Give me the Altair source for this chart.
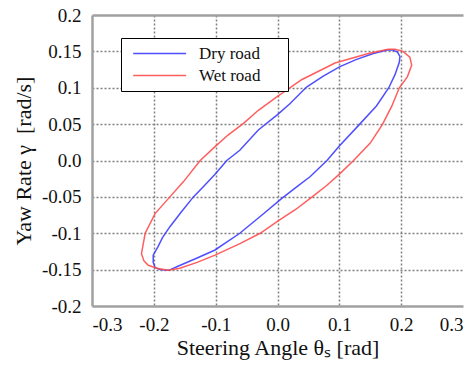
import altair as alt
import pandas as pd

# Dry road loop (blue), traced from the peak along the upper branch and back
dry_x = [0.177, 0.155, 0.128, 0.101, 0.074, 0.047, 0.020, 0.000, -0.031, -0.061,
         -0.082, -0.101, -0.120, -0.136, -0.155, -0.174, -0.186, -0.193, -0.201, -0.201,
         -0.198, -0.190, -0.176, -0.160, -0.130, -0.101, -0.061, -0.028, 0.007, 0.030,
         0.053, 0.080, 0.100, 0.133, 0.160, 0.180, 0.190, 0.197, 0.198, 0.194,
         0.186, 0.177]
dry_y = [0.152, 0.147, 0.139, 0.129, 0.116, 0.101, 0.078, 0.063, 0.042, 0.014,
         0.000, -0.019, -0.036, -0.050, -0.070, -0.091, -0.106, -0.118, -0.130, -0.140,
         -0.147, -0.150, -0.151, -0.145, -0.134, -0.123, -0.100, -0.077, -0.052, -0.037,
         -0.022, 0.000, 0.020, 0.050, 0.075, 0.100, 0.118, 0.135, 0.143, 0.149,
         0.152, 0.152]

# Wet road loop (red)
wet_x = [0.179, 0.147, 0.093, 0.039, 0.000, -0.031, -0.055, -0.080, -0.101, -0.125,
         -0.152, -0.174, -0.198, -0.214, -0.220, -0.216, -0.209, -0.195, -0.177, -0.158,
         -0.130, -0.101, -0.060, -0.028, 0.001, 0.030, 0.056, 0.080, 0.101, 0.123,
         0.150, 0.170, 0.185, 0.197, 0.210, 0.217, 0.214, 0.203, 0.190, 0.179]
wet_y = [0.153, 0.147, 0.134, 0.111, 0.088, 0.069, 0.051, 0.035, 0.019, 0.000,
         -0.029, -0.050, -0.073, -0.100, -0.128, -0.138, -0.144, -0.148, -0.151, -0.148,
         -0.140, -0.130, -0.114, -0.100, -0.083, -0.067, -0.050, -0.034, -0.018, 0.000,
         0.024, 0.050, 0.075, 0.100, 0.115, 0.131, 0.142, 0.150, 0.153, 0.153]

series_names = ["Dry road", "Wet road"]
series_colors = ["#3c3cff", "#ff4d4d"]

x_ticks = [-0.3, -0.2, -0.1, 0.0, 0.1, 0.2, 0.3]
y_ticks = [-0.2, -0.15, -0.1, -0.05, 0.0, 0.05, 0.1, 0.15, 0.2]

rows = []
for name, xs, ys in [(series_names[0], dry_x, dry_y), (series_names[1], wet_x, wet_y)]:
    for i, (a, b) in enumerate(zip(xs, ys)):
        rows.append({"series": name, "x": a, "y": b, "order": i})
df = pd.DataFrame(rows)

FONT = "Liberation Serif"
BORDER = "#a0a0a0"

x_scale = alt.Scale(domain=[x_ticks[0], x_ticks[-1]], nice=False)
y_scale = alt.Scale(domain=[y_ticks[0], y_ticks[-1]], nice=False)

lines = alt.Chart(df).mark_line(strokeWidth=1.5, opacity=0.9).encode(
    x=alt.X("x:Q", scale=x_scale,
            axis=alt.Axis(values=x_ticks, title="Steering Angle θₛ [rad]",
                          labelExpr="(datum.value < 0 ? '-' : '') + format(abs(datum.value), '.1f')",
                          ticks=False, tickSize=0, labelPadding=9, labelOverlap=False,
                          labelFont=FONT, labelFontSize=19, labelColor="#111",
                          titleFont=FONT, titleFontSize=22, titleFontWeight="normal",
                          titleColor="#111", titleBaseline="alphabetic", titleY=48,
                          domainColor=BORDER, domainWidth=2.5,
                          grid=True, gridColor="#808080", gridDash=[2, 2], gridWidth=1.5,
                          gridOpacity={"condition": {"test": "abs(datum.value) > 0.29", "value": 0}, "value": 1})),
    y=alt.Y("y:Q", scale=y_scale,
            axis=alt.Axis(values=y_ticks, title="Yaw Rate γ\u00a0 [rad/s]",
                          labelExpr="datum.value == 0 ? '0.0' : (datum.value < 0 ? '-' : '') + format(abs(datum.value), '~g')",
                          ticks=False, tickSize=0, labelPadding=11, labelOverlap=False,
                          labelFont=FONT, labelFontSize=19, labelColor="#111",
                          titleFont=FONT, titleFontSize=22, titleFontWeight="normal",
                          titleColor="#111", titleBaseline="alphabetic", titleX=-62,
                          domainColor=BORDER, domainWidth=2.5,
                          grid=True, gridColor="#808080", gridDash=[2, 2], gridWidth=1.5,
                          gridOpacity={"condition": {"test": "abs(datum.value) > 0.19", "value": 0}, "value": 1})),
    color=alt.Color("series:N", scale=alt.Scale(domain=series_names, range=series_colors),
                    legend=alt.Legend(orient="none", legendX=29, legendY=23, title=None,
                                      symbolType="M-0.62,0H9.38M26.6,0", symbolSize=112,
                                      symbolStrokeWidth=1.6,
                                      labelFont=FONT, labelFontSize=17, labelColor="#111",
                                      labelOffset=54, padding=7, rowPadding=4,
                                      strokeColor="black", fillColor="white")),
    order="order:Q",
)

# invisible layer that only carries the grey frame line along the top edge
top_frame = alt.Chart(df).mark_point(opacity=0).encode(
    x=alt.X("x:Q", scale=x_scale,
            axis=alt.Axis(orient="top", labels=False, ticks=False, grid=False, title=None,
                          domainColor=BORDER, domainWidth=2.5))
)

chart = alt.layer(lines, top_frame).resolve_axis(x="independent").properties(
    width=371, height=291,
    autosize=alt.AutoSizeParams(type="none"),
    padding={"left": 84, "top": 7, "right": 4, "bottom": 56},
).configure_view(strokeWidth=0).configure_axis(
    labelFont=FONT, titleFont=FONT
).configure_legend(labelFont=FONT)

chart.save("out.html", embed_options={"renderer": "svg", "actions": False})
